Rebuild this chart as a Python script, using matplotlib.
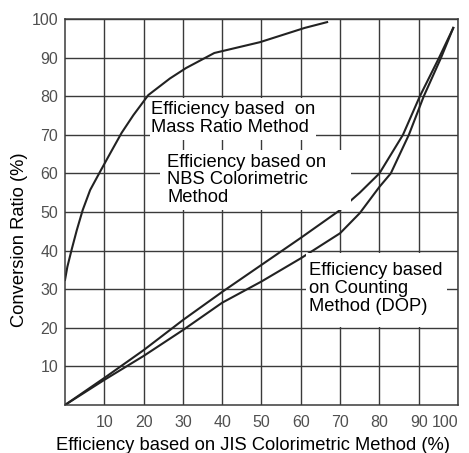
import numpy as np
import matplotlib
matplotlib.use('Agg')
import matplotlib.pyplot as plt
from matplotlib.patches import Rectangle

plt.rcParams['font.family'] = ['Liberation Sans', 'DejaVu Sans']

# curves
mass_x = [0, 0.6, 1.7, 3.0, 4.5, 6.4, 8.9, 11.5, 14.4, 17.4, 21.2, 26.7, 30.8, 38, 49.6, 61, 66.7]
mass_y = [32.4, 35.8, 40.3, 45.3, 50.5, 55.7, 60.4, 65.2, 70.5, 75.1, 80.3, 84.6, 87.3, 91.2, 94, 97.7, 99.2]

nbs_x = [0, 10, 20, 30, 40, 50, 60, 70, 75, 80, 86, 90.3, 95.2, 98.8]
nbs_y = [0, 7, 14.2, 22, 29.3, 36.3, 43.3, 50.5, 55, 60, 70, 80, 90, 97.7]

dop_x = [0, 10, 20, 30, 40, 50, 60, 70, 75, 80, 82.9, 87.5, 91.3, 95.7, 98.8]
dop_y = [0, 6.5, 12.7, 19.4, 26.5, 32, 38, 44.5, 49.7, 56.5, 60, 70, 80, 90, 97.7]

ticks = [10, 20, 30, 40, 50, 60, 70, 80, 90, 100]

labels = ['Efficiency based  on\nMass Ratio Method',
          'Efficiency based on\nNBS Colorimetric\nMethod',
          'Efficiency based\non Counting\nMethod (DOP)']

fig = plt.figure(figsize=(4.69, 4.53), dpi=100)
ax = fig.add_axes([0.1386, 0.106, 0.8379, 0.852])

gc = '#3a3a3a'
for t in ticks:
    ax.axvline(t, color=gc, lw=1.0, zorder=1)
    ax.axhline(t, color=gc, lw=1.0, zorder=1)

ax.plot(mass_x, mass_y, color='#222222', lw=1.5, zorder=2)
ax.plot(nbs_x, nbs_y, color='#222222', lw=1.5, zorder=2)
ax.plot(dop_x, dop_y, color='#222222', lw=1.5, zorder=2)

# white boxes behind the labels (x0, y0, x1, y1) and text anchor
boxes = [(21.6, 68.7, 63.9, 79.5), (24.2, 50.5, 72.8, 66.1), (61.3, 20.2, 97.2, 39.4)]
anchors = [(22.0, 74.2), (26.0, 58.3), (62.0, 30.2)]
for txt, b, (x, y) in zip(labels, boxes, anchors):
    ax.add_patch(Rectangle((b[0], b[1]), b[2] - b[0], b[3] - b[1],
                           facecolor='white', edgecolor='none', zorder=3))
    ax.text(x, y, txt, fontsize=13.2, va='center', ha='left', linespacing=1.05, zorder=4)

ax.set_xlim(0, 100)
ax.set_ylim(0, 100)
ax.set_xticks(ticks)
ax.set_yticks(ticks)
ax.tick_params(length=0, labelsize=11.5, labelcolor='#505050')
ax.tick_params(axis='x', pad=7)
ax.tick_params(axis='y', pad=5)
for s in ax.spines.values():
    s.set_color(gc)
    s.set_linewidth(1.1)

# last x label sits inside the frame like in the scan
ax.get_xticklabels()[-1].set_horizontalalignment('right')

ax.set_xlabel('Efficiency based on JIS Colorimetric Method (%)', fontsize=13.2)
ax.set_ylabel('Conversion Ratio (%)', fontsize=13.2)
ax.xaxis.set_label_coords(0.478, -0.082)
ax.yaxis.set_label_coords(-0.094, 0.427)

plt.savefig('out.png')
